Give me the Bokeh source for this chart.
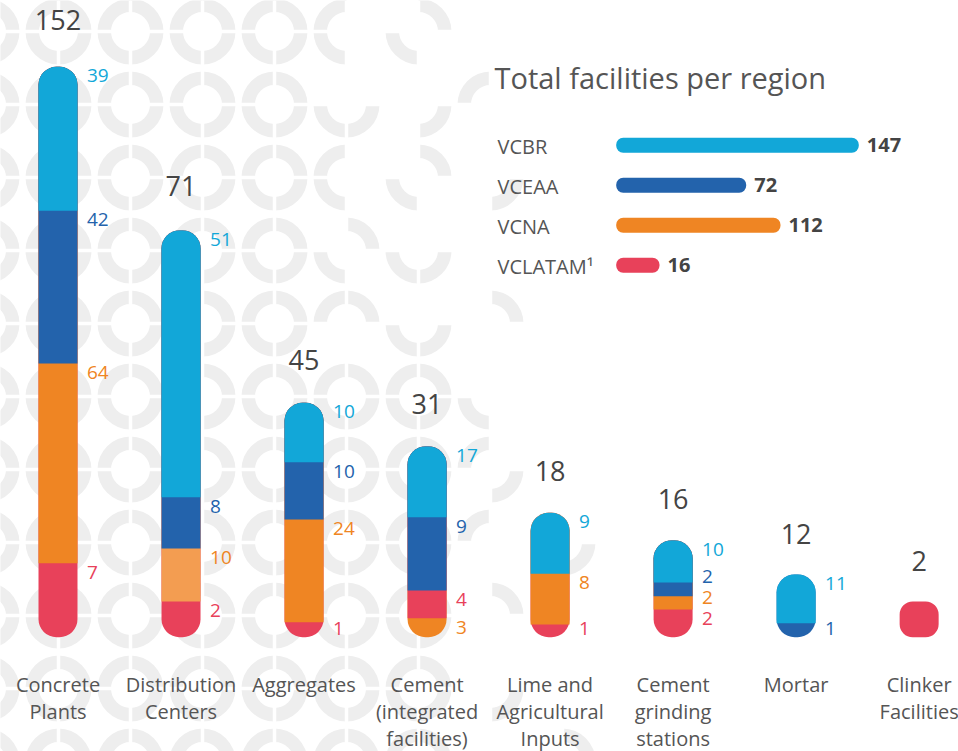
import math
from bokeh.plotting import figure
from bokeh.models import Range1d, ColumnDataSource
from bokeh.embed import file_html
from bokeh.resources import INLINE
from bokeh.core.properties import value

# ---------------- data ----------------
categories = ["Concrete\nPlants", "Distribution\nCenters", "Aggregates",
              "Cement\n(integrated\nfacilities)", "Lime and\nAgricultural\nInputs",
              "Cement\ngrinding\nstations", "Mortar", "Clinker\nFacilities"]
totals = [152, 71, 45, 31, 18, 16, 12, 2]

vcbr = [39, 51, 10, 17, 9, 10, 11, 0]
vceaa = [42, 8, 10, 9, 0, 2, 1, 0]
vcna = [64, 10, 24, 3, 8, 2, 0, 0]
vclatam = [7, 2, 1, 4, 1, 2, 0, 2]

# the infographic is not drawn to scale: segment lengths
vcbr_len = [144.0, 266.7, 59.4, 70.7, 61.0, 42.0, 48.7, 0]
vceaa_len = [152.7, 51.3, 57.3, 73.3, 0, 13.7, 14.0, 0]
vcna_len = [199.7, 53.0, 102.7, 19.0, 50.7, 13.3, 0, 0]
vclatam_len = [74.0, 35.7, 15.0, 27.7, 12.7, 27.7, 0, 35.7]

stack_default = ["VCLATAM", "VCNA", "VCEAA", "VCBR"]
stack_cement = ["VCNA", "VCLATAM", "VCEAA", "VCBR"]
stack_orders = [stack_default, stack_default, stack_default, stack_cement,
                stack_default, stack_default, stack_default, stack_default]

region_names = ["VCBR", "VCEAA", "VCNA", "VCLATAM\u00b9"]
region_totals = [147, 72, 112, 16]
region_len = [242.6, 130.0, 164.3, 43.3]

# ---------------- styles ----------------
series = {"VCBR": vcbr, "VCEAA": vceaa, "VCNA": vcna, "VCLATAM": vclatam}
series_len = {"VCBR": vcbr_len, "VCEAA": vceaa_len, "VCNA": vcna_len, "VCLATAM": vclatam_len}
colors = {"VCBR": "#12A7D8", "VCEAA": "#2363AC", "VCNA": "#EF8523", "VCLATAM": "#E8415A"}
region_colors = [colors["VCBR"], colors["VCEAA"], colors["VCNA"], colors["VCLATAM"]]
colour_override = {(1, "VCNA"): "#F39D51"}
FONT = value("Open Sans")
RING = "#EEEEEE"

W, H = 958, 751
STEP, X0, BASE = 123.02, 57.5, 636.7
BW = 39 / STEP

p = figure(width=W, height=H, output_backend="svg", toolbar_location=None,
           x_range=Range1d(-X0 / STEP, (W - X0) / STEP),
           y_range=Range1d(-(H - BASE), BASE),
           x_axis_type=None, y_axis_type=None, min_border=0,
           outline_line_color=None, background_fill_color="white",
           border_fill_color="white")
p.extra_x_ranges = {"px": Range1d(0, W)}
p.extra_y_ranges = {"px": Range1d(0, H)}
p.grid.visible = False

# ---------------- decorative background rings ----------------
ring_x = [-14 + 72 * k for k in range(14)]
ring_y = [31 + 73 * k for k in range(11)]
quad = {"tr": (0, 0.5 * math.pi), "tl": (0.5 * math.pi, math.pi),
        "bl": (math.pi, 1.5 * math.pi), "br": (1.5 * math.pi, 2 * math.pi)}
partial = {
    (346, 31): "tl bl", (418, 31): "tr bl",
    (346, 104): "bl br", (418, 104): "br", (490, 104): "tl",
    (346, 177): "tl bl", (418, 177): "tr bl", (490, 177): "br",
    (346, 250): "tr bl", (418, 250): "bl br",
    (346, 323): "tl tr", (418, 323): "bl br", (490, 323): "tr",
    (490, 396): "bl", (490, 469): "tl br", (490, 542): "tl",
    (490, 615): "tr", (490, 688): "br", (562, 542): "br", (562, 761): "tr",
}
rx, ry, ra0, ra1 = [], [], [], []
for cx in ring_x:
    for cy in ring_y:
        if cx <= 274 or (cx in (346, 418) and cy >= 396):
            qs = ["tr", "tl", "bl", "br"]
        else:
            qs = partial.get((cx, cy), "").split()
        for q in qs:
            rx.append(cx); ry.append(H - cy)
            ra0.append(quad[q][0]); ra1.append(quad[q][1])
p.annular_wedge(x=rx, y=ry, inner_radius=19.5, outer_radius=33,
                start_angle=ra0, end_angle=ra1, fill_color=RING, line_color=None,
                x_range_name="px", y_range_name="px")
p.segment(x0=ring_x, y0=[0] * len(ring_x), x1=ring_x, y1=[H] * len(ring_x),
          line_color="white", line_width=3.5, x_range_name="px", y_range_name="px")
p.segment(x0=[0] * len(ring_y), y0=[H - y for y in ring_y], x1=[W] * len(ring_y),
          y1=[H - y for y in ring_y], line_color="white", line_width=3.5,
          x_range_name="px", y_range_name="px")

# ---------------- stacked capsule bars ----------------
levels = {}
lab = {"x": [], "y": [], "text": [], "color": []}
tot = {"x": [], "y": [], "text": []}
for i, cat in enumerate(categories):
    segs = [(r, series[r][i], series_len[r][i]) for r in stack_orders[i] if series[r][i] > 0]
    bar_top = sum(s[2] for s in segs)
    bottom = 0.0
    prev = None
    for k, (r, v, ln) in enumerate(segs):
        key = "single" if len(segs) == 1 else ("base" if k == 0 else k)
        col = colour_override.get((i, r), colors[r])
        d = levels.setdefault(key, {"x": [], "bottom": [], "top": [], "color": []})
        d["x"].append(i); d["bottom"].append(bottom); d["top"].append(bar_top); d["color"].append(col)
        seg_top = bottom + ln
        if len(segs) > 1:
            ly = max(seg_top - 9, 8.5) if prev is None else max(seg_top - 9, prev + 21)
            prev = ly
            lab["x"].append(i); lab["y"].append(ly); lab["text"].append(str(v))
            lab["color"].append(colors[r])
        bottom = seg_top
    tot["x"].append(i); tot["y"].append(bar_top + 40 + 0.012 * bar_top); tot["text"].append(str(totals[i]))

order_keys = ["base"] + sorted(k for k in levels if isinstance(k, int)) + ["single"]
for key in order_keys:
    if key not in levels:
        continue
    if key == "base":
        rad = 18
    elif key == "single":
        rad = 13
    else:
        rad = (18, 18, 0, 0)
    p.vbar(x="x", bottom="bottom", top="top", width=BW, fill_color="color",
           line_color=None, border_radius=rad, source=ColumnDataSource(levels[key]))

p.text(x="x", y="y", text="text", text_color="color", source=ColumnDataSource(lab),
       x_offset=29, text_align="left", text_baseline="middle",
       text_font=FONT, text_font_size="19px")
p.text(x="x", y="y", text="text", source=ColumnDataSource(tot), text_color="#444444",
       text_align="center", text_baseline="middle", text_font=FONT, text_font_size="27px")

cl = {"x": [], "y": [], "text": []}
for i, cat in enumerate(categories):
    for j, line in enumerate(cat.split("\n")):
        cl["x"].append(i); cl["y"].append(BASE - 683.5 - 27.1 * j); cl["text"].append(line)
p.text(x="x", y="y", text="text", source=ColumnDataSource(cl), text_color="#555555",
       text_align="center", text_baseline="middle", text_font=FONT, text_font_size="20px")

# ---------------- inset: total facilities per region ----------------
p.text(x=[494], y=[H - 76.7], text=["Total facilities per region"], text_color="#555555",
       text_align="left", text_baseline="middle", text_font=FONT, text_font_size="29px",
       x_range_name="px", y_range_name="px")
LEFT = 615.7
ry_c = [H - (144.8 + 40 * j) for j in range(len(region_names))]
p.hbar(y=ry_c, left=[LEFT] * len(region_len), right=[LEFT + v for v in region_len],
       height=15, fill_color=region_colors, line_color=None, border_radius=7,
       x_range_name="px", y_range_name="px")
p.text(x=[497] * len(region_names), y=[H - (145.8 + 40 * j) for j in range(len(region_names))],
       text=region_names, text_color="#555555", text_align="left", text_baseline="middle",
       text_font=FONT, text_font_size="20px", x_range_name="px", y_range_name="px")
p.text(x=[LEFT + v + 8 for v in region_len], y=ry_c, text=[str(t) for t in region_totals],
       text_color="#444444", text_align="left", text_baseline="middle", text_font=FONT,
       text_font_size="20px", text_font_style="bold", x_range_name="px", y_range_name="px")

open("out.html", "w").write(file_html(p, INLINE))
